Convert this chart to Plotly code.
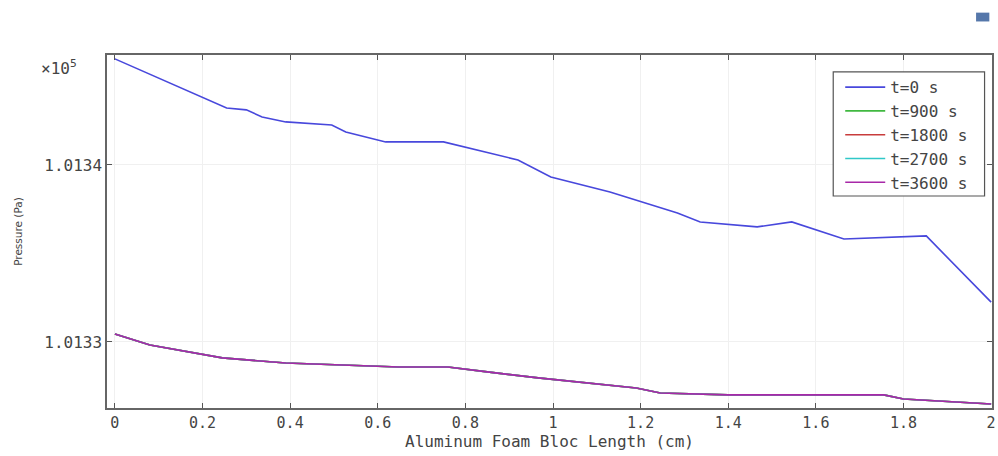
import plotly.graph_objects as go

# Blue curve t=0 s (Pa)
x_t0 = [0.0, 0.255, 0.30, 0.336, 0.39, 0.495, 0.527, 0.618, 0.75, 0.92, 0.995,
        1.13, 1.284, 1.336, 1.466, 1.545, 1.664, 1.852, 2.0]
p_t0 = [101345.99, 101343.22, 101343.11, 101342.71, 101342.43, 101342.26, 101341.86,
        101341.30, 101341.30, 101340.28, 101339.32, 101338.47, 101337.29, 101336.78,
        101336.50, 101336.78, 101335.82, 101335.99, 101332.25]

# Later times (t=900..3600 s) overlap
x_later = [0.0, 0.08, 0.245, 0.39, 0.648, 0.76, 0.85, 0.966, 1.19, 1.245, 1.40,
           1.755, 1.80, 2.0]
p_later = [101330.45, 101329.83, 101329.10, 101328.81, 101328.59, 101328.59, 101328.31,
           101327.97, 101327.40, 101327.12, 101327.01, 101327.01, 101326.78, 101326.50]

series_names = ["t=0 s", "t=900 s", "t=1800 s", "t=2700 s", "t=3600 s"]
series_colors = ["#4848dc", "#40b840", "#c83c3c", "#30c8c8", "#a828a8"]

x_ticks = [0, 0.2, 0.4, 0.6, 0.8, 1.0, 1.2, 1.4, 1.6, 1.8, 2.0]
x_ticklabels = ["0", "0.2", "0.4", "0.6", "0.8", "1", "1.2", "1.4", "1.6", "1.8", "2"]
y_ticks = [101330, 101340]
y_ticklabels = ["1.0133", "1.0134"]

fig = go.Figure()
data_sets = [(x_t0, p_t0)] + [(x_later, p_later)] * 4
for (xs, ys), name, col in zip(data_sets, series_names, series_colors):
    fig.add_trace(go.Scatter(x=xs, y=ys, mode="lines", name=name,
                             line=dict(color=col, width=1.6)))

mono = "DejaVu Sans Mono"
grey = "#444444"

fig.update_layout(
    width=998, height=456,
    margin=dict(l=107, r=2, t=55, b=48),
    paper_bgcolor="white", plot_bgcolor="white",
    showlegend=True,
    font=dict(family=mono, size=13, color=grey),
    legend=dict(x=0.8285, y=0.957, xanchor="left", yanchor="top",
                borderwidth=0, bgcolor="rgba(0,0,0,0)",
                itemwidth=40,
                font=dict(family=mono, size=16, color=grey),
                tracegroupgap=0),
    xaxis=dict(range=[-0.018, 2.002], tickvals=x_ticks, ticktext=x_ticklabels,
               tickfont=dict(family=mono, size=15, color=grey),
               ticks="inside", ticklen=5, tickcolor="#555555",
               showline=True, linecolor="#666666", linewidth=1.5, mirror="ticks",
               showgrid=True, gridcolor="#f0f0f0", zeroline=False,
               title=dict(text="Aluminum Foam Bloc Length (cm)", standoff=3,
                          font=dict(family=mono, size=16, color=grey))),
    yaxis=dict(range=[101326.27, 101346.21], tickvals=y_ticks, ticktext=y_ticklabels,
               tickfont=dict(family=mono, size=16, color=grey),
               ticks="inside", ticklen=5, tickcolor="#555555",
               showline=True, linecolor="#666666", linewidth=1.5, mirror="ticks",
               showgrid=True, gridcolor="#f0f0f0", zeroline=False,
               title=dict(text="Pressure (Pa)", standoff=20,
                          font=dict(family="DejaVu Sans", size=10.5, color=grey))),
)

# legend frame
fig.add_shape(type="rect", xref="paper", yref="paper", x0=0.8206, x1=0.9916,
              y0=0.6006, y1=0.952, fillcolor="white", layer="above",
              line=dict(color="#555555", width=1.2))

fig.add_annotation(xref="paper", yref="paper", x=-0.032, y=0.966, xanchor="right",
                   yanchor="middle", text="×10<sup>5</sup>", showarrow=False,
                   font=dict(family=mono, size=16, color=grey))

fig.add_shape(type="rect", xref="paper", yref="paper", x0=0.982, x1=0.997,
              y0=1.095, y1=1.12, fillcolor="#5577aa", line=dict(width=0))

fig.write_html("out.html")
